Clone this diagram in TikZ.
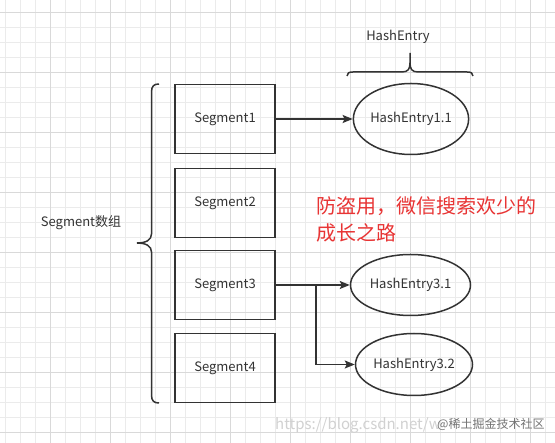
\documentclass[tikz,border=0pt]{standalone}
\usepackage{fontspec}
\setmainfont{Noto Sans CJK SC}
\usetikzlibrary{arrows.meta,shapes.geometric,calc}
\definecolor{ink}{HTML}{333333}
\definecolor{redtxt}{RGB}{232,52,52}
\begin{document}
\begin{tikzpicture}[x=1pt,y=-1pt,
  segbox/.style={draw=ink,line width=1.5pt,minimum width=100pt,minimum height=69pt,inner sep=0pt,font=\fontsize{13}{15}\selectfont,text=ink},
  entry/.style={ellipse,draw=ink,line width=1.5pt,inner sep=0pt,font=\fontsize{13}{15}\selectfont,text=ink},
  arr/.style={draw=ink,line width=1.5pt,-{Stealth[length=10pt,width=8pt,inset=2pt]}},
  brace/.style={draw=ink,line width=1.5pt},
  lbl/.style={font=\fontsize{13}{15}\selectfont,text=ink,inner sep=0pt},
  gridminor/.style={draw=black!8,line width=0.6pt},
  gridmajor/.style={draw=black!15,line width=0.7pt},
]
\fill[white] (0,0) rectangle (555,443);
\useasboundingbox (0,0) rectangle (555,443);
% background grid
\foreach \x in {5,20,...,545} \draw[gridminor] (\x,0) -- (\x,443);
\foreach \y in {12.5,27.5,...,442.5} \draw[gridminor] (0,\y) -- (555,\y);
\foreach \x in {50,110,...,530} \draw[gridmajor] (\x,0) -- (\x,443);
\foreach \y in {12.5,72.5,...,432.5} \draw[gridmajor] (0,\y) -- (555,\y);

% watermarks
\node[text=black!18, font=\fontsize{15}{17}\selectfont, anchor=west, inner sep=0pt] (wm1) at (275,425) {https://blog.csdn.net/w};
\node[text=black!55, font=\fontsize{12}{14}\selectfont, anchor=west, inner sep=0pt] (wm2) at (437,424) {@稀土掘金技术社区};

% segments
\node[segbox] (seg1) at (225,119) {Segment1};
\node[segbox] (seg2) at (225,203) {Segment2};
\node[segbox] (seg3) at (225,285) {Segment3};
\node[segbox] (seg4) at (225,368) {Segment4};

% entries
\node[entry,minimum width=111pt,minimum height=71pt] (e11) at (411,119) {HashEntry1.1};
\node[entry,minimum width=120pt,minimum height=61pt] (e31) at (410.5,285) {HashEntry3.1};
\node[entry,minimum width=117pt,minimum height=62pt] (e32) at (414,364.5) {HashEntry3.2};

% connectors
\coordinate (br) at ($(seg3.east)+(40,0)$);
\draw[arr] (seg1) -- (e11);
\draw[arr] (seg3.east) -- (e31);
\draw[arr] (br) |- (e32);

% left brace
\draw[brace] (159,84) .. controls (154,84) and (151.5,86) .. (151.5,92) -- (151.5,234)
  .. controls (151.5,240) and (146,243) .. (137,243)
  .. controls (146,243) and (151.5,246) .. (151.5,252) -- (151.5,395)
  .. controls (151.5,401) and (154,403) .. (159,403);
% top brace
\draw[brace] (347,76) .. controls (347,73) and (349,72) .. (353,72) -- (402,72)
  .. controls (408,72) and (410,69) .. (410,63) -- (410,53);
\draw[brace] (410,63) .. controls (410,69) and (412,72) .. (418,72) -- (467,72)
  .. controls (471,72) and (473,73) .. (473,76);

% labels
\node[lbl] (hl) at (398,37) {HashEntry};
\node[lbl] (sl) at (81,223) {Segment数组};
\node[anchor=north west, text=redtxt, font=\fontsize{20}{27}\selectfont, align=left, inner sep=0pt] (warn) at (316,196) {防盗用，微信搜索欢少的\\成长之路};
\end{tikzpicture}
\end{document}
